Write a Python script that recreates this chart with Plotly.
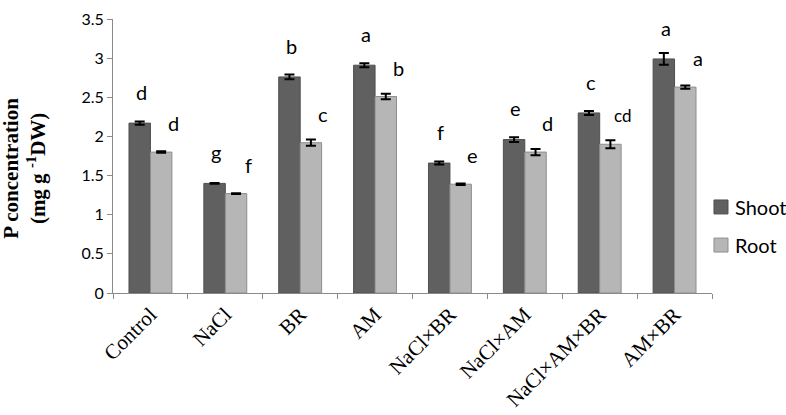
import plotly.graph_objects as go

categories = ["Control", "NaCl", "BR", "AM", "NaCl×BR", "NaCl×AM", "NaCl×AM×BR", "AM×BR"]
shoot = [2.17, 1.40, 2.76, 2.91, 1.66, 1.96, 2.30, 2.99]
shoot_err = [0.02, 0.006, 0.03, 0.025, 0.02, 0.03, 0.025, 0.075]
root = [1.80, 1.27, 1.92, 2.51, 1.39, 1.80, 1.90, 2.63]
root_err = [0.01, 0.004, 0.04, 0.035, 0.01, 0.04, 0.05, 0.02]
shoot_letters = ["d", "g", "b", "a", "f", "e", "c", "a"]
root_letters = ["d", "f", "c", "b", "e", "d", "cd", "a"]
series_names = ["Shoot", "Root"]
y_ticks = [0, 0.5, 1, 1.5, 2, 2.5, 3, 3.5]
y_tick_text = ["0", "0.5", "1", "1.5", "2", "2.5", "3", "3.5"]

SANS = "Lato, 'Liberation Sans', sans-serif"
SERIF = "'Liberation Serif', 'Times New Roman', serif"
SHOOT_FILL, SHOOT_LINE = "#606060", "#4f4f4f"
ROOT_FILL, ROOT_LINE = "#b6b6b6", "#8e8e8e"

fig = go.Figure()
fig.add_trace(go.Bar(
    x=categories, y=shoot, name=series_names[0], showlegend=False,
    marker=dict(color=SHOOT_FILL, line=dict(color=SHOOT_LINE, width=1)),
    error_y=dict(type="data", array=shoot_err, visible=True, color="#000000", thickness=2, width=5),
))
fig.add_trace(go.Bar(
    x=categories, y=root, name=series_names[1], showlegend=False,
    marker=dict(color=ROOT_FILL, line=dict(color=ROOT_LINE, width=1)),
    error_y=dict(type="data", array=root_err, visible=True, color="#000000", thickness=2, width=5),
))

annotations = []
for c, v, t in zip(categories, shoot, shoot_letters):
    annotations.append(dict(x=c, y=v + 0.40, xref="x", yref="y", text=t, showarrow=False,
                            xshift=-9, font=dict(family=SANS, size=20, color="#000000")))
for c, v, t in zip(categories, root, root_letters):
    annotations.append(dict(x=c, y=v + 0.37, xref="x", yref="y", text=t, showarrow=False,
                            xshift=23, font=dict(family=SANS, size=20 if len(t) == 1 else 17, color="#000000")))

annotations.append(dict(
    x=-0.148, y=0.455, xref="paper", yref="paper", showarrow=False, textangle=-90,
    xanchor="center", yanchor="middle",
    text="<b>P concentration</b><br><b>(mg g <sup>-1</sup>DW)</b>",
    font=dict(family=SERIF, size=21, color="#000000"),
))

# manual legend (square swatch + label)
shapes = []
legend_items = [(series_names[0], SHOOT_FILL, SHOOT_LINE, 0.314), (series_names[1], ROOT_FILL, ROOT_LINE, 0.175)]
for name, fill, line, yc in legend_items:
    shapes.append(dict(type="rect", xref="paper", yref="paper",
                       x0=1.0033, x1=1.0267, y0=yc - 0.0255, y1=yc + 0.0255,
                       fillcolor=fill, line=dict(color=line, width=1)))
    annotations.append(dict(x=1.035, y=yc, xref="paper", yref="paper", text=name, showarrow=False,
                            xanchor="left", yanchor="middle",
                            font=dict(family=SANS, size=20, color="#000000")))

fig.update_layout(
    width=786, height=415,
    margin=dict(l=113, r=74, t=19, b=122, autoexpand=False),
    paper_bgcolor="white", plot_bgcolor="white",
    barmode="group", bargap=0.427, bargroupgap=0,
    showlegend=False,
    annotations=annotations,
    shapes=shapes,
    xaxis=dict(
        automargin=False,
        showline=True, linecolor="#8a8a8a", linewidth=1,
        ticks="outside", tickson="boundaries", ticklen=5, tickcolor="#8a8a8a",
        tickangle=-45, tickfont=dict(family=SERIF, size=21, color="#000000"),
        showgrid=False,
    ),
    yaxis=dict(
        automargin=False,
        range=[0, 3.5], tickvals=y_ticks, ticktext=y_tick_text,
        showline=True, linecolor="#8a8a8a", linewidth=1,
        ticks="outside", ticklen=5, tickcolor="#8a8a8a",
        tickfont=dict(family=SANS, size=16, color="#000000"),
        showgrid=False, zeroline=False,
    ),
)

fig.write_html("out.html", config={"displayModeBar": False},
               post_script="document.body.style.margin='0';")
